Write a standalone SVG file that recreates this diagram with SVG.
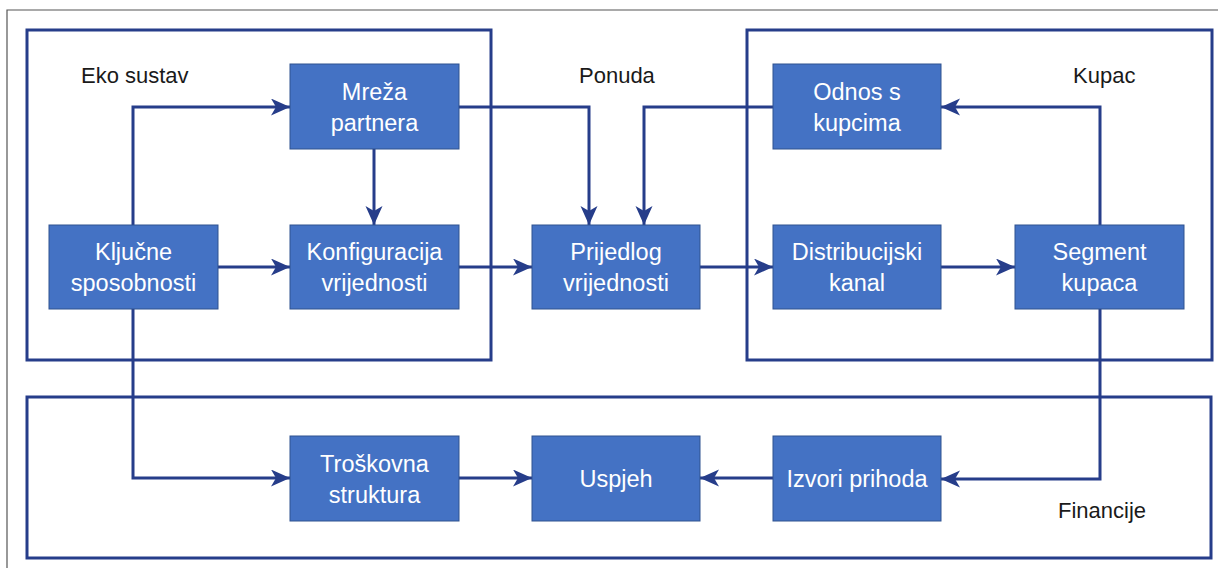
<svg xmlns="http://www.w3.org/2000/svg" width="1218" height="568" viewBox="0 0 1218 568">
<style>
.frame{fill:none;stroke:#555;stroke-width:1.2}
.group{fill:none;stroke:#263D8A;stroke-width:3}
.node{fill:#4472C4;stroke:#2F528F;stroke-width:1}
.nt{font-family:"Liberation Sans",Arial,sans-serif;font-size:23.5px;fill:#fff;text-anchor:middle}
.gt{font-family:"Liberation Sans",Arial,sans-serif;font-size:22px;fill:#1a1a1a}
.conn{fill:none;stroke:#263D8A;stroke-width:3;marker-end:url(#arr)}
</style>
<defs>
<marker id="arr" markerUnits="userSpaceOnUse" markerWidth="20" markerHeight="18" refX="19" refY="8.5" orient="auto">
<path d="M0,0 L19,8.5 L0,17 L5,8.5 z" fill="#263D8A"/>
</marker>
</defs>
<rect width="1218" height="568" fill="#fff"/>
<path class="frame" d="M7,568 V10 H1218"/>
<g id="eko-sustav">
<rect class="group" x="27" y="30" width="464" height="330"/>
<text class="gt" x="81" y="83">Eko sustav</text>
</g>
<g id="kupac">
<rect class="group" x="747" y="30" width="465" height="330"/>
<text class="gt" x="1073" y="83">Kupac</text>
</g>
<g id="financije">
<rect class="group" x="27" y="397" width="1184" height="161"/>
<text class="gt" x="1058" y="518">Financije</text>
</g>
<text class="gt" x="579" y="83">Ponuda</text>
<g id="connectors">
<path class="conn" d="M133,225 V107 H290"/>
<path class="conn" d="M218,267 H290"/>
<path class="conn" d="M374,149 V225"/>
<path class="conn" d="M459,107 H589 V225"/>
<path class="conn" d="M773,107 H644 V225"/>
<path class="conn" d="M459,267 H532"/>
<path class="conn" d="M700,267 H773"/>
<path class="conn" d="M941,267 H1015"/>
<path class="conn" d="M1100,225 V107 H941"/>
<path class="conn" d="M1100,309 V479 H941"/>
<path class="conn" d="M133,309 V478 H290"/>
<path class="conn" d="M459,478 H532"/>
<path class="conn" d="M773,478 H700"/>
</g>
<g id="kljucne-sposobnosti">
<rect class="node" x="49" y="225" width="169" height="84"/>
<text class="nt" x="133.5" y="260">Ključne</text>
<text class="nt" x="133.5" y="291">sposobnosti</text>
</g>
<g id="mreza-partnera">
<rect class="node" x="290" y="64" width="169" height="85"/>
<text class="nt" x="374.5" y="100">Mreža</text>
<text class="nt" x="374.5" y="131">partnera</text>
</g>
<g id="konfiguracija-vrijednosti">
<rect class="node" x="290" y="225" width="169" height="84"/>
<text class="nt" x="374.5" y="260">Konfiguracija</text>
<text class="nt" x="374.5" y="291">vrijednosti</text>
</g>
<g id="prijedlog-vrijednosti">
<rect class="node" x="532" y="225" width="168" height="84"/>
<text class="nt" x="616" y="260">Prijedlog</text>
<text class="nt" x="616" y="291">vrijednosti</text>
</g>
<g id="odnos-s-kupcima">
<rect class="node" x="773" y="64" width="168" height="85"/>
<text class="nt" x="857" y="100">Odnos s</text>
<text class="nt" x="857" y="131">kupcima</text>
</g>
<g id="distribucijski-kanal">
<rect class="node" x="773" y="225" width="168" height="84"/>
<text class="nt" x="857" y="260">Distribucijski</text>
<text class="nt" x="857" y="291">kanal</text>
</g>
<g id="segment-kupaca">
<rect class="node" x="1015" y="225" width="169" height="84"/>
<text class="nt" x="1099.5" y="260">Segment</text>
<text class="nt" x="1099.5" y="291">kupaca</text>
</g>
<g id="troskovna-struktura">
<rect class="node" x="290" y="436" width="169" height="85"/>
<text class="nt" x="374.5" y="472">Troškovna</text>
<text class="nt" x="374.5" y="503">struktura</text>
</g>
<g id="uspjeh">
<rect class="node" x="532" y="436" width="168" height="85"/>
<text class="nt" x="616" y="487">Uspjeh</text>
</g>
<g id="izvori-prihoda">
<rect class="node" x="773" y="436" width="168" height="85"/>
<text class="nt" x="857" y="487">Izvori prihoda</text>
</g>
</svg>
